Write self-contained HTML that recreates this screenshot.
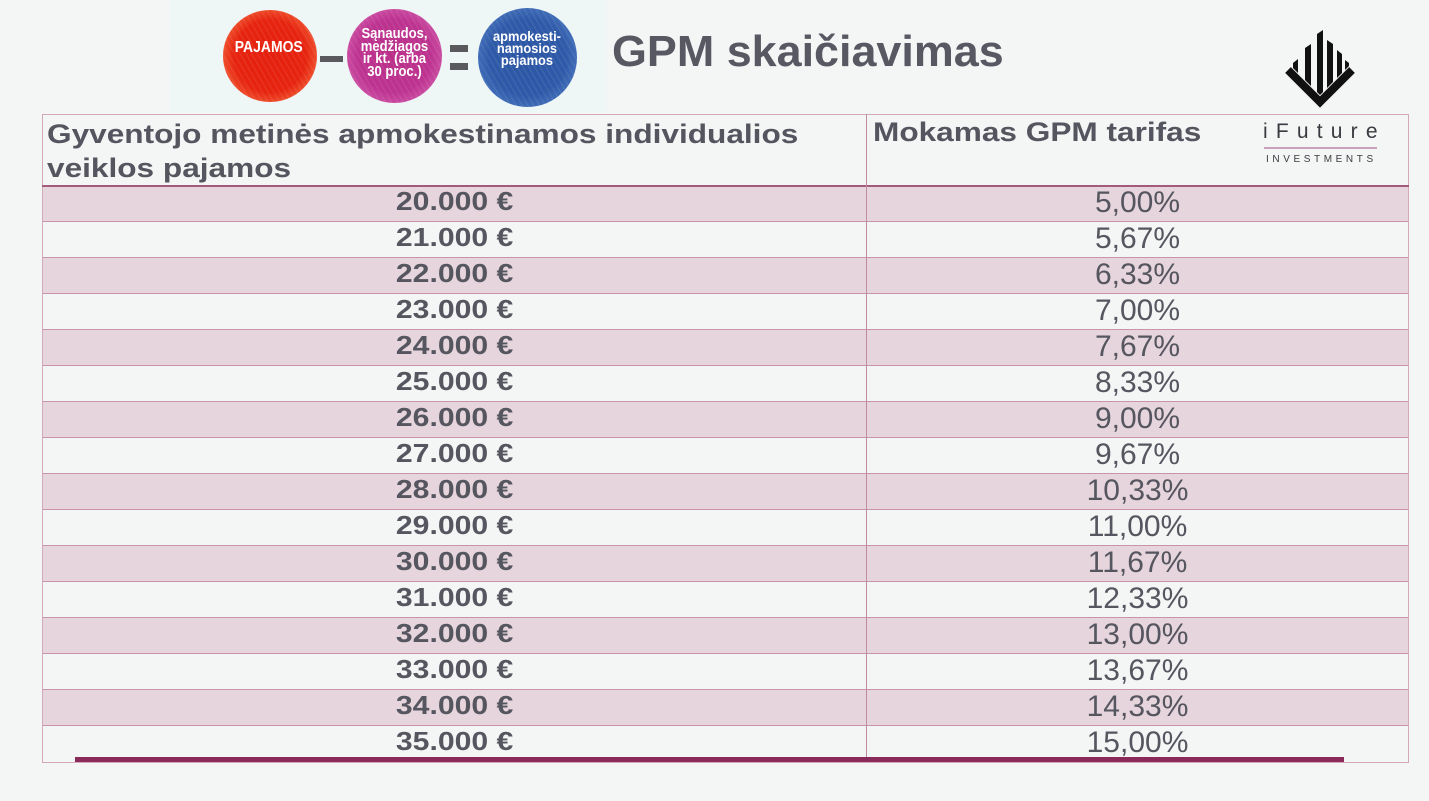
<!DOCTYPE html>
<html><head><meta charset="utf-8">
<style>
*{margin:0;padding:0;box-sizing:border-box}
body{width:1429px;height:801px;background:#f4f5f5;overflow:hidden;font-family:"Liberation Sans",sans-serif;color:#55565f}
#w{position:relative;width:1429px;height:801px;overflow:hidden}
.abs{position:absolute}
.banner{left:170px;top:0;width:437px;height:112px;background:#eef6f6}
.circ{position:absolute;border-radius:50%;overflow:hidden}
.circ::after{content:"";position:absolute;left:0;top:0;right:0;bottom:0;background:repeating-linear-gradient(60deg,rgba(255,255,255,0) 0px,rgba(255,255,255,0) 3px,rgba(255,255,255,0.10) 4px,rgba(255,255,255,0) 5px)}
.ct{position:absolute;color:#fff;font-weight:bold;text-align:center;white-space:nowrap}
.ct span{display:inline-block}
.title{left:612px;top:30px;font-size:44px;line-height:44px;font-weight:bold;color:#575862;white-space:nowrap;transform:scaleX(1.02);transform-origin:left}
.tbl{left:42px;top:114px;width:1367px;height:649px;border:1px solid #d3a9ba}
.row{position:absolute;left:43px;width:1365px;height:36px;border-bottom:1px solid #c993a8}
.row.p{background:#e6d5dc}
.c1{position:absolute;left:0;width:824px;top:-3px;height:36px;line-height:36px;text-align:center;font-weight:bold;font-size:26px;white-space:nowrap}
.c1 span{display:inline-block;transform:scaleX(1.16)}
.c2{position:absolute;left:824px;width:541px;top:-1px;height:36px;line-height:36px;text-align:center;font-size:30px;white-space:nowrap}
.hd{font-weight:bold;font-size:27px;line-height:34px;white-space:nowrap;transform:scaleX(1.17);transform-origin:left;color:#54555f}
</style></head><body><div id="w">

<div class="abs banner"></div>

<!-- red circle -->
<div class="circ" style="left:223px;top:10px;width:94px;height:92px;background:radial-gradient(circle at 50% 50%,#e5200f 0%,#e6240f 55%,#ee4a2a 70%,rgba(243,110,80,0.6) 85%,rgba(243,120,90,0) 100%)"></div>
<div class="ct" style="left:224px;top:40px;width:90px;font-size:15.5px;line-height:15px"><span style="transform:scaleX(0.9)">PAJAMOS</span></div>

<!-- minus -->
<div class="abs" style="left:320px;top:56px;width:23px;height:6px;background:#5a5a5e"></div>

<!-- purple circle -->
<div class="circ" style="left:347px;top:9px;width:95px;height:94px;background:radial-gradient(circle at 50% 50%,#b92f88 0%,#bd3390 55%,#c94aa0 70%,rgba(210,100,180,0.6) 85%,rgba(220,120,190,0) 100%)"></div>
<div class="ct" style="left:349px;top:28px;width:90px;font-size:14.5px;line-height:12.7px"><span style="transform:scaleX(0.9)">Sąnaudos,<br>medžiagos<br>ir kt. (arba<br>30 proc.)</span></div>

<!-- equals -->
<div class="abs" style="left:450px;top:45px;width:18px;height:7px;background:#5a5a5e"></div>
<div class="abs" style="left:450px;top:63px;width:18px;height:7px;background:#5a5a5e"></div>

<!-- blue circle -->
<div class="circ" style="left:478px;top:8px;width:99px;height:99px;background:radial-gradient(circle at 50% 50%,#2c56a5 0%,#2f5aa8 55%,#3f6bb6 70%,rgba(90,130,200,0.6) 85%,rgba(110,150,210,0) 100%)"></div>
<div class="ct" style="left:481px;top:31px;width:92px;font-size:14px;line-height:11.8px"><span style="transform:scaleX(0.92)">apmokesti-<br>namosios<br>pajamos</span></div>

<div class="abs title">GPM skaičiavimas</div>

<!-- logo -->
<svg class="abs" style="left:0;top:0" width="1429" height="801" viewBox="0 0 1429 801">
<polyline points="1288,70 1320,102 1352,70" fill="none" stroke="#111" stroke-width="8" stroke-linejoin="miter" stroke-linecap="butt"/>
<polygon points="1293,63 1298,59 1298,73 1293,68" fill="#111"/>
<polygon points="1305,48 1311,44 1311,86 1305,80" fill="#111"/>
<polygon points="1317,34 1323,30 1323,92 1320,95 1317,92" fill="#111"/>
<polygon points="1327,40 1333,44 1333,82 1327,88" fill="#111"/>
<polygon points="1337,50 1342,54 1342,73 1337,78" fill="#111"/>
<polygon points="1345,60 1349,63 1349,66 1345,70" fill="#111"/>
</svg>

<!-- table -->
<div class="abs tbl"></div>

<div class="abs hd" style="left:47px;top:117px">Gyventojo metinės apmokestinamos individualios<br>veiklos pajamos</div>
<div class="abs hd" style="left:873px;top:115px">Mokamas GPM tarifas</div>

<div class="abs" style="left:1263px;top:120px;font-size:21px;line-height:24px;letter-spacing:8.2px;color:#3a3a40;white-space:nowrap">iFuture</div>
<div class="abs" style="left:1264px;top:147px;width:113px;height:2px;background:#c9a3bb"></div>
<div class="abs" style="left:1266px;top:154px;font-size:10px;line-height:11px;letter-spacing:3.6px;color:#3a3a40;white-space:nowrap">INVESTMENTS</div>

<div class="abs" style="left:42px;top:185px;width:1367px;height:2px;background:#a35b7c"></div>

<div class="row p" style="top:187px;height:35px"><div class="c1" style="top:-4px"><span>20.000 €</span></div><div class="c2" style="top:-2px">5,00%</div></div>
<div class="row" style="top:222px"><div class="c1"><span>21.000 €</span></div><div class="c2">5,67%</div></div>
<div class="row p" style="top:258px"><div class="c1"><span>22.000 €</span></div><div class="c2">6,33%</div></div>
<div class="row" style="top:294px"><div class="c1"><span>23.000 €</span></div><div class="c2">7,00%</div></div>
<div class="row p" style="top:330px"><div class="c1"><span>24.000 €</span></div><div class="c2">7,67%</div></div>
<div class="row" style="top:366px"><div class="c1"><span>25.000 €</span></div><div class="c2">8,33%</div></div>
<div class="row p" style="top:402px"><div class="c1"><span>26.000 €</span></div><div class="c2">9,00%</div></div>
<div class="row" style="top:438px"><div class="c1"><span>27.000 €</span></div><div class="c2">9,67%</div></div>
<div class="row p" style="top:474px"><div class="c1"><span>28.000 €</span></div><div class="c2">10,33%</div></div>
<div class="row" style="top:510px"><div class="c1"><span>29.000 €</span></div><div class="c2">11,00%</div></div>
<div class="row p" style="top:546px"><div class="c1"><span>30.000 €</span></div><div class="c2">11,67%</div></div>
<div class="row" style="top:582px"><div class="c1"><span>31.000 €</span></div><div class="c2">12,33%</div></div>
<div class="row p" style="top:618px"><div class="c1"><span>32.000 €</span></div><div class="c2">13,00%</div></div>
<div class="row" style="top:654px"><div class="c1"><span>33.000 €</span></div><div class="c2">13,67%</div></div>
<div class="row p" style="top:690px"><div class="c1"><span>34.000 €</span></div><div class="c2">14,33%</div></div>
<div class="row" style="top:726px;border-bottom:none"><div class="c1"><span>35.000 €</span></div><div class="c2">15,00%</div></div>

<!-- vertical divider -->
<div class="abs" style="left:866px;top:114px;width:1px;height:648px;background:#c08aa0"></div>

<!-- bottom purple line -->
<div class="abs" style="left:75px;top:757px;width:1269px;height:5px;background:#8a2a5b"></div>

</div></body></html>
